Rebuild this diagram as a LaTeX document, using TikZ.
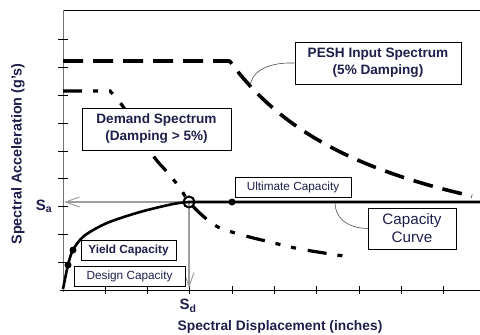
\documentclass[tikz,border=0pt]{standalone}
\usepackage{fontspec}
\setmainfont{Liberation Sans}
\usetikzlibrary{arrows.meta,shadows}
\definecolor{ink}{rgb}{0.12,0.12,0.30}
\definecolor{guide}{gray}{0.62}
\begin{document}
\begin{tikzpicture}[x=1pt,y=-1pt,
  axisline/.style={line width=1pt,black},
  tick/.style={line width=0.9pt,black},
  box/.style={draw=black,line width=0.9pt,fill=white,inner sep=0pt,text=ink,align=center},
  boldlab/.style={font=\fontsize{13.6}{17}\selectfont\bfseries},
  smalllab/.style={font=\fontsize{11.8}{14}\selectfont},
  pesh/.style={line width=3.6pt,dash pattern=on 20pt off 10pt},
  demand/.style={line width=3.2pt,dash pattern=on 19pt off 11pt on 5pt off 11pt on 5pt off 12pt},
  capline/.style={line width=2.6pt,line join=round},
  guideline/.style={guide,line width=1.2pt,-{Straight Barb[length=14pt,width=10pt,line width=1pt]}},
  leader/.style={line width=0.6pt,black!70},
  dot/.style={circle,fill=black,inner sep=0pt,minimum size=7pt},
  axlab/.style={text=ink,font=\fontsize{13.8}{16}\selectfont\bfseries},
]
\useasboundingbox (0,0) rectangle (480,335);

% frame and axes
\draw[line width=0.9pt] (63,10) -- (480,10);
\draw[line width=1pt,black!55] (63,10) -- (63,292);
\draw[axisline] (60,290) -- (480,290);
\foreach \k in {1,...,9} {
  \draw[tick] (58,{290-27.8*\k}) -- (68,{290-27.8*\k});
  \draw[tick] ({63+42.3*\k},286) -- ({63+42.3*\k},294);
}

% input spectrum (5% damping)
\draw[pesh] (63,61) -- (229,61) -- plot[domain=230:472,samples=70] (\x,{289-380/((\x-63)/100)});

% demand spectrum (damping > 5%)
\draw[demand] (63,91) -- (110,91) -- plot[smooth,tension=0.55] coordinates
  {(110,91) (124,108) (152,154) (168,173) (180,188) (189,202) (203,216) (218,227) (242,235) (270,242) (300,249) (350,257)};

% performance point guides
\node[circle,draw=black,line width=1.8pt,minimum size=11pt,inner sep=0pt] (pp) at (189,202) {};
\coordinate (sa) at (64,202);
\coordinate (sd) at (189,288);
\draw[guideline] (pp.center) -- (sa);
\draw[guideline] (pp.center) -- (sd);

% capacity curve
\draw[capline] plot[smooth,tension=0.5] coordinates
  {(63,289) (68,265) (73,250) (84,236) (107,223) (140,212) (173,204) (189,202)} -- (480,202);

% labels in boxes
\node[box,boldlab,minimum width=166pt,minimum height=42pt] (peshbox) at (378,63)
  {PESH Input Spectrum\\(5\% Damping)};
\node[box,boldlab,minimum width=149pt,minimum height=42pt] (demandbox) at (156.5,129)
  {Demand Spectrum\\(Damping > 5\%)};
\node[box,smalllab,minimum width=116pt,minimum height=20pt] (ultbox) at (293,187)
  {Ultimate Capacity};
\node[box,font=\fontsize{15.2}{18}\selectfont,minimum width=88pt,minimum height=41pt] (capbox) at (412,228.5)
  {Capacity\\Curve};
\node[box,smalllab,minimum width=95pt,minimum height=20pt,
  drop shadow={opacity=1,fill=black,shadow xshift=1.2pt,shadow yshift=-1.2pt}] (yieldbox) at (128.5,250)
  {\bfseries Yield Capacity};
\node[box,smalllab,minimum width=111pt,minimum height=20pt] (designbox) at (129.5,276)
  {Design Capacity};

% leaders
\coordinate (peshend) at (250,88);
\coordinate (capend) at (335,203);
\draw[leader] (peshbox.west) .. controls (264,62) and (250,74) .. (peshend);
\draw[leader] (capbox.west) .. controls (345,228) and (335,216) .. (capend);

% points on the capacity curve
\node[circle,draw=black,line width=1.8pt,minimum size=11pt,inner sep=0pt] at (pp) {};
\node[dot] (ult) at (232,202) {};
\node[dot] (yield) at (73,250) {};
\node[dot] (design) at (68,265) {};

% axis labels
\node[text=ink,font=\fontsize{15}{16}\selectfont\bfseries] (salab) at (44,206) {S\textsubscript{a}};
\node[text=ink,font=\fontsize{15}{16}\selectfont\bfseries] (sdlab) at (188,306) {S\textsubscript{d}};
\node[axlab] (xlab) at (280,327) {Spectral Displacement (inches)};
\node[axlab,font=\fontsize{14.4}{16}\selectfont\bfseries,rotate=90] (ylab) at (18,154) {Spectral Acceleration (g's)};
\end{tikzpicture}
\end{document}
